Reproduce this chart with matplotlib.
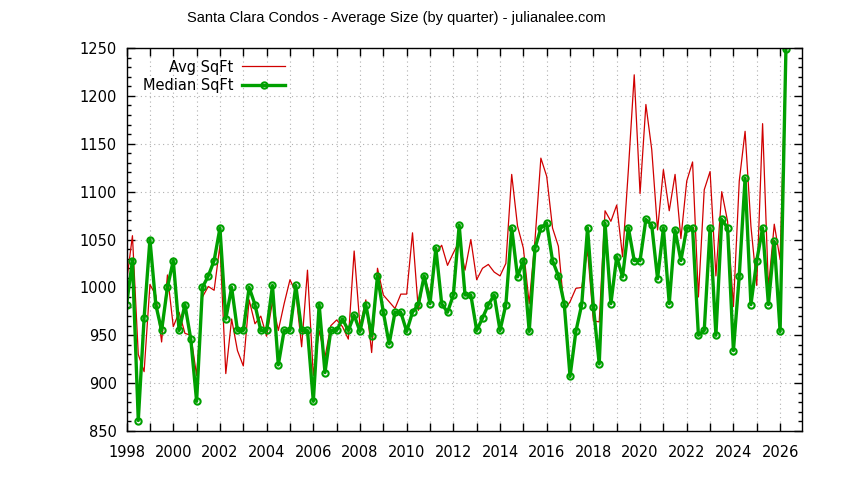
import numpy as np
import matplotlib.pyplot as plt
from matplotlib.ticker import MultipleLocator, FuncFormatter

plt.rcParams['font.family'] = ['DejaVu Sans']

# quarterly data, Q1 1998 .. Q2 2026
first_year = 1998
avg_sqft = [1006, 1054, 930, 912, 1003, 992, 943, 1013, 959, 974,
            952, 950, 908, 990, 1001, 997, 1044, 910, 967, 934,
            918, 987, 962, 970, 949, 985, 955, 983, 1008, 995,
            938, 1018, 908, 955, 927, 960, 966, 959, 946, 1038,
            959, 987, 932, 1020, 992, 985, 978, 993, 993, 1057,
            976, 1012, 992, 1036, 1044, 1023, 1036, 1048, 1018, 1050,
            1008, 1020, 1024, 1016, 1012, 1025, 1118, 1064, 1041, 983,
            1050, 1135, 1116, 1062, 1043, 976, 985, 999, 1000, 1039,
            965, 964, 1080, 1069, 1086, 1032, 1123, 1222, 1098, 1191,
            1144, 1060, 1123, 1080, 1118, 1051, 1111, 1131, 990, 1102,
            1121, 1012, 1100, 1069, 980, 1111, 1163, 1064, 1002, 1171,
            999, 1066, 1029, 1245]
median_sqft = [982, 1028, 861, 968, 1050, 982, 955, 1000, 1028, 955,
               982, 946, 881, 1000, 1012, 1028, 1062, 967, 1000, 955,
               955, 1000, 982, 955, 955, 1002, 919, 955, 955, 1002,
               955, 955, 881, 982, 911, 955, 955, 967, 955, 971,
               954, 982, 949, 1012, 974, 941, 974, 974, 954, 974,
               982, 1012, 983, 1041, 983, 974, 992, 1065, 992, 992,
               955, 968, 982, 992, 955, 982, 1062, 1011, 1028, 954,
               1041, 1062, 1067, 1028, 1012, 983, 907, 954, 982, 1062,
               980, 920, 1067, 983, 1032, 1011, 1062, 1028, 1028, 1071,
               1065, 1009, 1062, 983, 1060, 1028, 1062, 1062, 950, 955,
               1062, 950, 1071, 1062, 934, 1012, 1114, 982, 1028, 1062,
               982, 1048, 954, 1249]

x = first_year + np.arange(len(avg_sqft)) * 0.25

fig = plt.figure(figsize=(8.44, 4.80), dpi=100)
ax = fig.add_axes([0.150, 0.102, 0.800, 0.798])

ax.plot(x, avg_sqft, color='#d00000', lw=0.9, label='Avg SqFt')
ax.plot(x, median_sqft, color='#00a000', lw=2.4, marker='o', ms=4.5,
        mfc='none', mec='#00a000', mew=1.5, label='Median SqFt')

ax.set_xlim(1998, 2026.93)
ax.set_ylim(850, 1250)

ax.xaxis.set_major_locator(MultipleLocator(1))
ax.xaxis.set_major_formatter(FuncFormatter(lambda v, p: '%d' % v if int(round(v)) % 2 == 0 else ''))
ax.yaxis.set_major_locator(MultipleLocator(50))
ax.yaxis.set_minor_locator(MultipleLocator(10))

ax.tick_params(which='both', direction='in', top=True, right=True, labelsize=10.5)
ax.tick_params(axis='x', pad=10)
ax.tick_params(axis='y', pad=7)
ax.tick_params(which='major', length=6, width=1)
ax.tick_params(which='minor', length=3, width=1)
ax.grid(True, which='major', color='#b0b0b0', ls=(0, (1, 3)), lw=0.8)
for s in ax.spines.values():
    s.set_linewidth(1)

fig.text(396 / 844, 1 - 18 / 480, 'Santa Clara Condos - Average Size (by quarter) - julianalee.com',
         ha='center', va='center', fontsize=10.5, family=['Liberation Sans', 'DejaVu Sans'])

ax.legend(loc='upper left', markerfirst=False, frameon=False, fontsize=10.5,
          handlelength=2.9, handletextpad=0.6, borderaxespad=0.0, labelspacing=0.25,
          bbox_to_anchor=(0.016, 0.985))

fig.savefig('out.png', dpi=100)
